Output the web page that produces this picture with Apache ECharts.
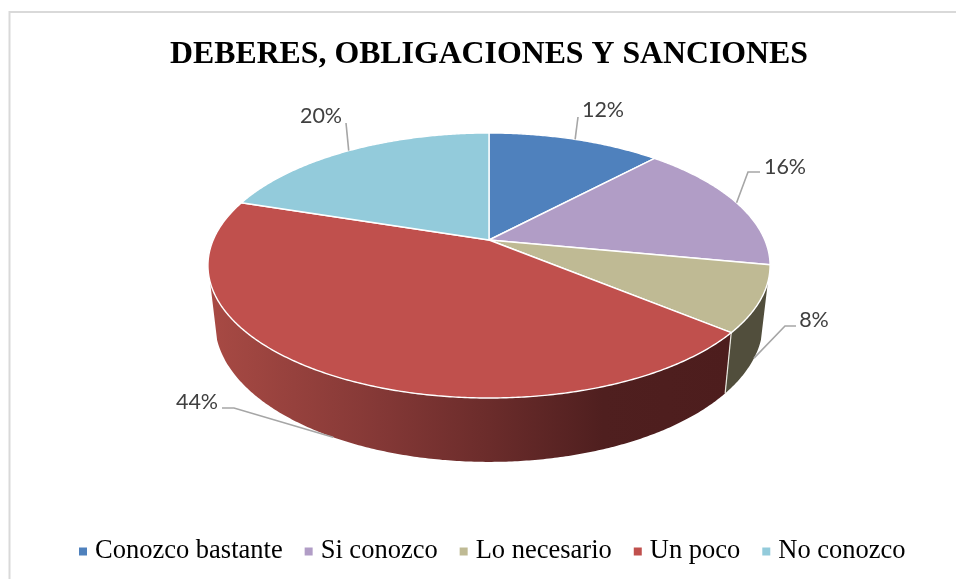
<!DOCTYPE html>
<html>
<head>
<meta charset="utf-8">
<style>html,body{margin:0;padding:0;background:#fff}#c{width:956px;height:579px}</style>
<script src="https://cdn.jsdelivr.net/npm/echarts@6/dist/echarts.min.js"></script>
</head>
<body>
<div id="c"></div>
<script>
// ---- data ----
const chartTitle = 'DEBERES, OBLIGACIONES Y SANCIONES';
const categories = ['Conozco bastante', 'Si conozco', 'Lo necesario', 'Un poco', 'No conozco'];
const values = [12, 16, 8, 44, 20];

// ---- styles ----
const topColors = ['#4f81bd', '#b19dc6', '#bfba94', '#c0504d', '#93cbdb'];
const sideFills = [
  '#3a5f8c', '#6f5f84', '#514e3c',
  { type: 'linear', x: 208, y: 0, x2: 728, y2: 0, global: true, colorStops: [
    { offset: 0, color: '#a84a44' }, { offset: 0.33, color: '#843836' },
    { offset: 0.54, color: '#6b2c2b' }, { offset: 0.76, color: '#4f1f1f' }, { offset: 1, color: '#4d1d1d' }] },
  '#5f8d99'
];

// ---- layout: the projected disc ----
const cx = 489, cy = 240, R = 275.8, Rv = 127.6, persp = 0.1924;
const bottomX = 0.975, bottomY = 1.05, bottomDrop = 56;
const wallFrom = 108, wallTo = 252;
// where each percentage label sits: elbow / label centre, relative to nothing in the data
const leaderElbows = [[578, 117], [748, 172], [785, 326], [234, 408], [346, 123]];
const leaderEnds = [[578, 117], [760, 172], [796, 326], [222, 408], [346, 123]];
const labelCentres = [[603, 110], [785, 167], [814, 320], [197, 402], [321, 116]];
const leaderOnBottom = [false, false, true, true, false];

function topPoint(deg) {
  const t = deg * Math.PI / 180, x = Math.sin(t), y = -Math.cos(t), s = 1 / (1 - persp * y);
  return [cx + R * x * s, cy + Rv * y * s];
}
function bottomPoint(deg) {
  const p = topPoint(deg);
  return [cx + (p[0] - cx) * bottomX, cy + bottomDrop + (p[1] - cy) * bottomY];
}
function arc(fn, a, b) {
  const pts = [], n = Math.max(2, Math.ceil(Math.abs(b - a) * 2));
  for (let i = 0; i <= n; i++) pts.push(fn(a + (b - a) * i / n));
  return pts;
}

const total = values.reduce((a, b) => a + b, 0);
const starts = values.map((_, i) => values.slice(0, i).reduce((a, b) => a + b, 0));

function makeRender(idx) {
  return function (params, api) {
    const v = api.value(0), s = api.value(1);
    const a0 = s / total * 360, a1 = (s + v) / total * 360, mid = (a0 + a1) / 2;
    const children = [];
    const w0 = Math.max(a0, wallFrom), w1 = Math.min(a1, wallTo);
    if (w1 > w0) {
      children.push({
        type: 'polygon', z2: 1, silent: true,
        shape: { points: arc(topPoint, w0, w1).concat(arc(bottomPoint, w0, w1).reverse()) },
        style: { fill: sideFills[idx] }
      });
      if (a0 >= wallFrom && a0 <= wallTo) {
        const p = topPoint(a0), q = bottomPoint(a0);
        children.push({ type: 'line', z2: 2, silent: true,
          shape: { x1: p[0], y1: p[1], x2: q[0], y2: q[1] },
          style: { stroke: '#e8e8e0', lineWidth: 1.2 } });
      }
    }
    children.push({
      type: 'polygon', z2: 5,
      shape: { points: [[cx, cy]].concat(arc(topPoint, a0, a1)) },
      style: { fill: topColors[idx], stroke: '#ffffff', lineWidth: 1.4, lineJoin: 'round' }
    });
    const anchor = leaderOnBottom[idx] ? bottomPoint(mid) : topPoint(mid);
    children.push({
      type: 'polyline', z2: 8, silent: true,
      shape: { points: [leaderEnds[idx], leaderElbows[idx], anchor] },
      style: { fill: 'none', stroke: '#a6a6a6', lineWidth: 1.6 }
    });
    children.push({
      type: 'text', z2: 9, silent: true,
      x: labelCentres[idx][0], y: labelCentres[idx][1],
      style: {
        text: v + '%', fill: '#404040', align: 'center', verticalAlign: 'middle',
        font: '21.5px Lato, "Open Sans", sans-serif'
      }
    });
    return { type: 'group', children };
  };
}

const chart = echarts.init(document.getElementById('c'), null, { renderer: 'canvas' });
chart.setOption({
  animation: false,
  backgroundColor: '#ffffff',
  title: {
    text: chartTitle, left: 484, top: 34, textAlign: 'center',
    textStyle: { fontFamily: '"Liberation Serif", serif', fontWeight: 'bold', fontSize: 31.8, color: '#000000' }
  },
  legend: {
    data: categories, left: 74, top: 533, icon: 'rect', itemWidth: 8, itemHeight: 8, itemGap: 22,
    selectedMode: false,
    textStyle: { fontFamily: '"Liberation Serif", serif', fontSize: 26.5, color: '#000000', padding: [0, 0, 0, 3] }
  },
  graphic: [
    { type: 'polyline', silent: true, shape: { points: [[9.5, 579], [9.5, 12], [956, 12]] },
      style: { fill: 'none', stroke: '#d9d9d9', lineWidth: 2 } }
  ],
  series: categories.map((name, i) => ({
    type: 'custom',
    name,
    coordinateSystem: 'none',
    itemStyle: { color: topColors[i] },
    encode: { value: [0] },
    data: [[values[i], starts[i]]],
    renderItem: makeRender(i)
  }))
});
</script>
</body>
</html>
